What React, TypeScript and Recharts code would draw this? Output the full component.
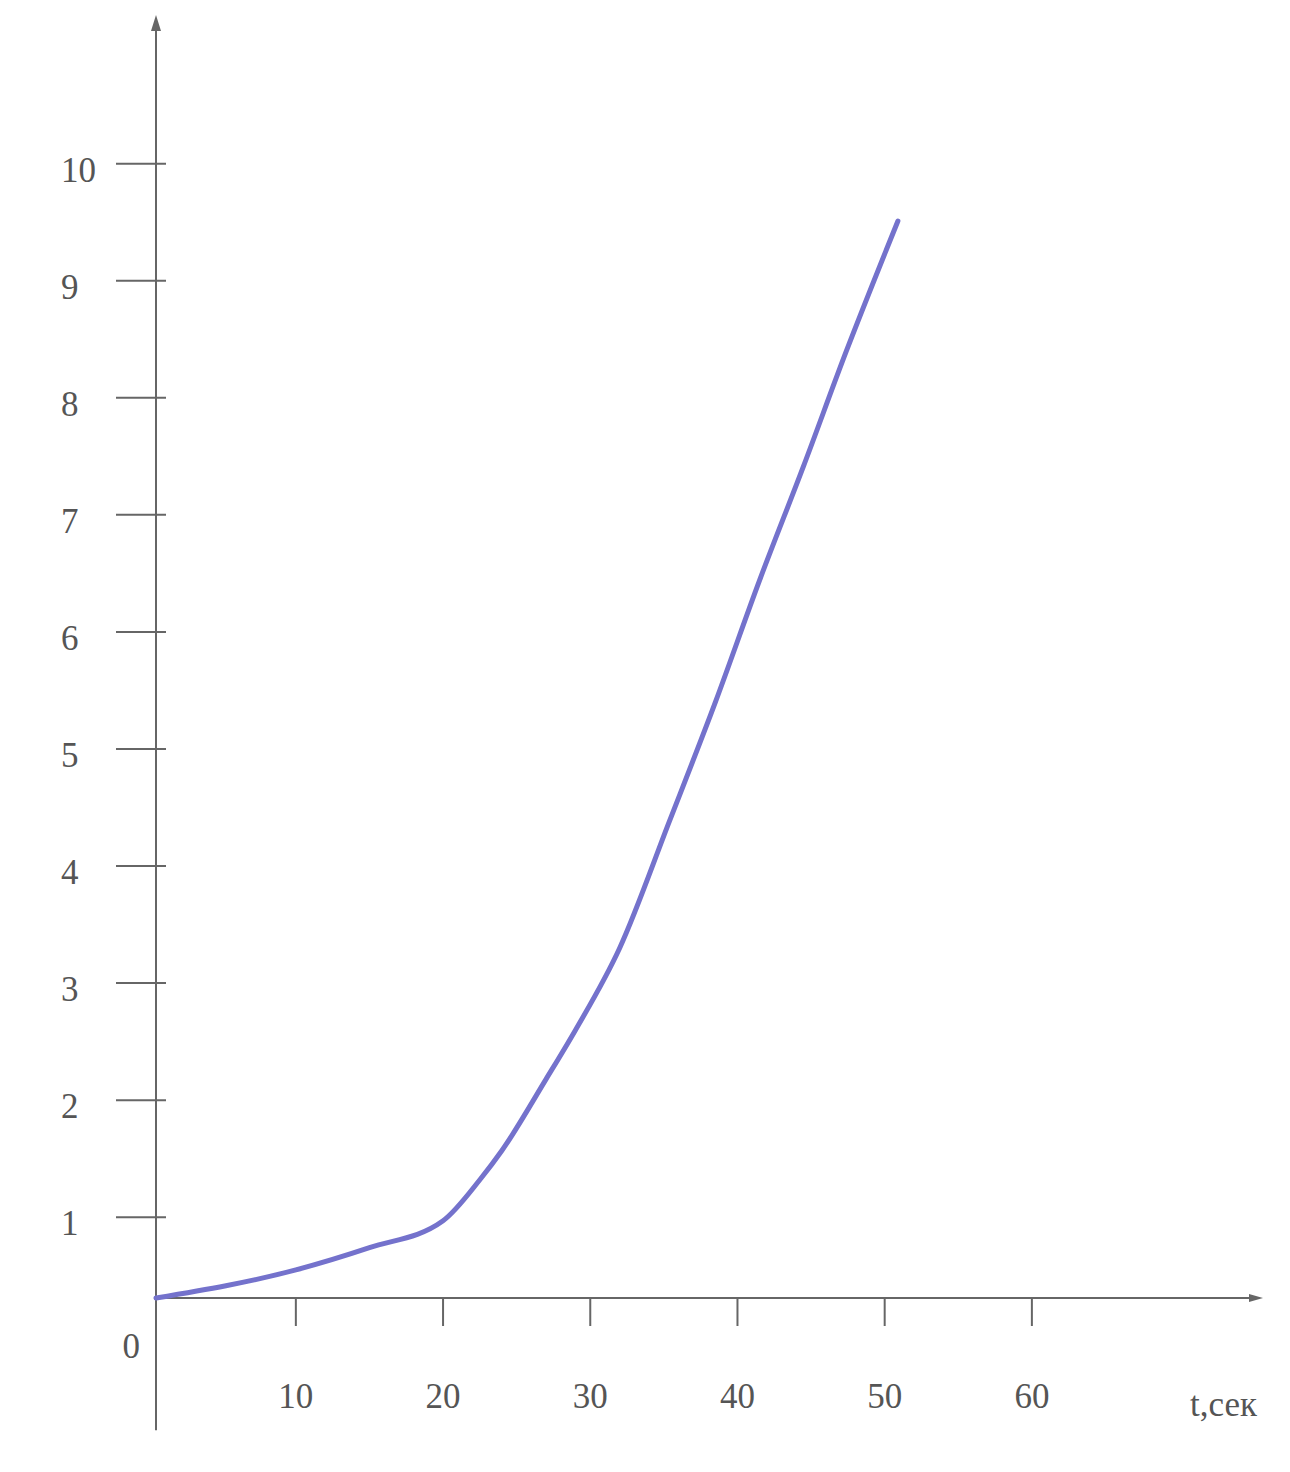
import React from 'react';
import { LineChart, Line, XAxis, YAxis, ReferenceLine } from 'recharts';

// time, seconds
const timeValues = [0.5, 10, 15, 20, 22.5, 24, 27, 29, 32, 35.4, 38.5, 41.5, 44.5, 47.4, 50.1, 50.9];
// measured quantity
const seriesValues = [0.31, 0.55, 0.74, 0.97, 1.32, 1.57, 2.18, 2.6, 3.3, 4.39, 5.4, 6.44, 7.42, 8.4, 9.26, 9.51];

const xTicks = [10, 20, 30, 40, 50, 60];
const yTicks = [1, 2, 3, 4, 5, 6, 7, 8, 9, 10];
const xAxisTitle = 't,сек';
const originLabel = '0';

const T_MIN = 0.5;
const T_MAX = 75.7;
const V_MIN = 0.31;
const V_MAX = 11.27;
const V_AXIS_BOTTOM = -0.82;

const data = timeValues.map((t, i) => ({ t, v: seriesValues[i] }));

const FONT = '"Liberation Serif", "Times New Roman", serif';
const TEXT = '#555555';
const AXIS = '#666666';

const arrowShape = (len: number, half: number) => (props: any) => {
  const { x1, y1, x2, y2 } = props;
  const a = Math.atan2(y2 - y1, x2 - x1);
  const bx = x2 - len * Math.cos(a);
  const by = y2 - len * Math.sin(a);
  const px = -Math.sin(a) * half;
  const py = Math.cos(a) * half;
  return (
    <g>
      <line x1={x1} y1={y1} x2={bx} y2={by} stroke={AXIS} strokeWidth={2} />
      <path d={`M${x2},${y2} L${bx + px},${by + py} L${bx - px},${by - py} Z`} fill={AXIS} />
    </g>
  );
};

const YTick = (props: any) => {
  const { x, y, payload } = props;
  return (
    <g>
      <line x1={x} y1={y} x2={x + 50} y2={y} stroke={AXIS} strokeWidth={2} />
      <text x={x - 55} y={y + 18} textAnchor="start" fontFamily={FONT} fontSize={35} fill={TEXT}>
        {payload.value}
      </text>
    </g>
  );
};

const XTick = (props: any) => {
  const { x, y, payload } = props;
  return (
    <text x={x} y={y + 82} textAnchor="middle" fontFamily={FONT} fontSize={35} fill={TEXT}>
      {payload.value}
    </text>
  );
};

export default function App() {
  return (
    <div style={{ width: 1282, height: 1460, background: '#fff' }}>
      <LineChart
        width={1282}
        height={1460}
        data={data}
        margin={{ top: 7, left: 48, right: 27, bottom: 20 }}
      >
        <XAxis
          type="number"
          dataKey="t"
          domain={[T_MIN, T_MAX]}
          ticks={xTicks}
          axisLine={false}
          tickLine={{ stroke: AXIS, strokeWidth: 2 }}
          tickSize={28}
          tickMargin={0}
          tick={<XTick />}
          height={150}
          interval={0}
          label={{
            content: (p: any) => {
              const vb = p.viewBox;
              return (
                <text
                  x={vb.x + vb.width - 6}
                  y={vb.y + 118}
                  textAnchor="end"
                  fontFamily={FONT}
                  fontSize={35}
                  fill={TEXT}
                >
                  {xAxisTitle}
                </text>
              );
            },
          }}
        />
        <YAxis
          type="number"
          domain={[V_MIN, V_MAX]}
          ticks={yTicks}
          axisLine={false}
          tickLine={false}
          tickSize={40}
          tickMargin={0}
          tick={<YTick />}
          width={100}
          interval={0}
          label={{
            content: (p: any) => {
              const vb = p.viewBox;
              return (
                <text
                  x={vb.x + vb.width - 16}
                  y={vb.y + vb.height + 60}
                  textAnchor="end"
                  fontFamily={FONT}
                  fontSize={35}
                  fill={TEXT}
                >
                  {originLabel}
                </text>
              );
            },
          }}
        />
        <ReferenceLine
          segment={[{ x: T_MIN, y: V_AXIS_BOTTOM }, { x: T_MIN, y: V_MAX }]}
          ifOverflow="visible"
          shape={arrowShape(16, 5)}
        />
        <ReferenceLine
          segment={[{ x: T_MIN, y: V_MIN }, { x: T_MAX, y: V_MIN }]}
          ifOverflow="visible"
          shape={arrowShape(14, 4)}
        />
        <Line
          type="monotone"
          dataKey="v"
          stroke="#7472cc"
          strokeWidth={5}
          dot={false}
          isAnimationActive={false}
          strokeLinecap="round"
        />
      </LineChart>
    </div>
  );
}
